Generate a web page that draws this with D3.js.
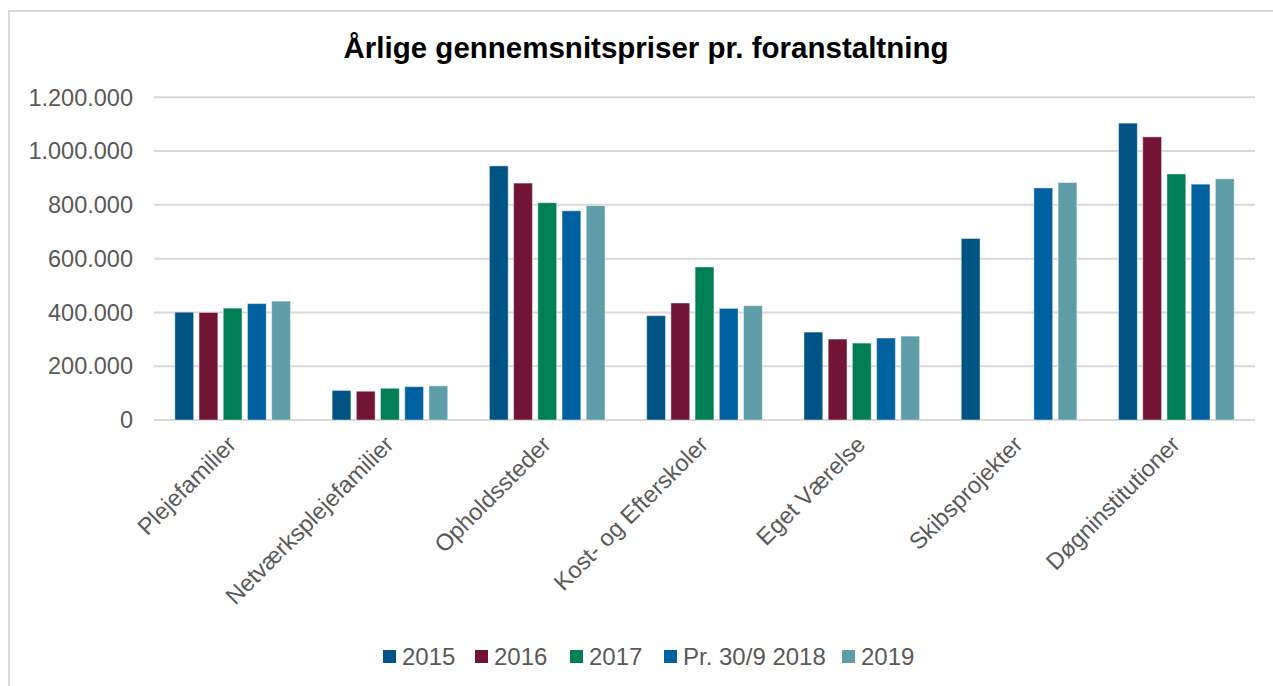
<!DOCTYPE html>
<html>
<head>
<meta charset="utf-8">
<title>Årlige gennemsnitspriser pr. foranstaltning</title>
<style>
  body { margin: 0; background: #fff; }
  svg { display: block; font-family: "Liberation Sans", Arial, sans-serif; }
</style>
</head>
<body>
<div id="chart"></div>
<script src="https://d3js.org/d3.v7.min.js"></script>
<script>
// categories and series
var categories = ["Plejefamilier", "Netværksplejefamilier", "Opholdssteder", "Kost- og Efterskoler",
                  "Eget Værelse", "Skibsprojekter", "Døgninstitutioner"];
var seriesNames = ["2015", "2016", "2017", "Pr. 30/9 2018", "2019"];
var v2015 = [401000, 110000, 945000, 388000, 327000, 675000, 1104000];
var v2016 = [400000, 107000, 881000, 435000, 301000, null, 1053000];
var v2017 = [416000, 118000, 808000, 569000, 286000, null, 915000];
var v2018 = [433000, 124000, 778000, 415000, 305000, 863000, 877000];
var v2019 = [442000, 127000, 797000, 425000, 312000, 883000, 897000];
var yTicks = [0, 200000, 400000, 600000, 800000, 1000000, 1200000];
var colors = ["#005483", "#721436", "#007e55", "#0061a0", "#5f9da8"];

var values = [v2015, v2016, v2017, v2018, v2019];

var width = 1273, height = 686;
var plotLeft = 154, plotRight = 1255, plotTop = 97.3, plotBottom = 420;

var svg = d3.select("#chart").append("svg")
    .attr("width", width)
    .attr("height", height);

// outer frame (right/bottom edges fall outside the picture)
svg.append("rect")
    .attr("x", 9).attr("y", 11)
    .attr("width", 1300).attr("height", 700)
    .attr("fill", "none")
    .attr("stroke", "#d9d9d9")
    .attr("stroke-width", 2);

svg.append("text")
    .attr("x", 646).attr("y", 58)
    .attr("text-anchor", "middle")
    .style("font-size", "29.5px")
    .style("font-weight", "bold")
    .style("fill", "#000")
    .text("Årlige gennemsnitspriser pr. foranstaltning");

var da = d3.formatLocale({decimal: ",", thousands: ".", grouping: [3], currency: ["", " kr"]});
var fmt = da.format(",d");

var y = d3.scaleLinear().domain([0, 1200000]).range([plotBottom, plotTop]);
var x0 = d3.scaleBand().domain(categories).range([plotLeft, plotRight]).padding(0);
var x1 = d3.scaleBand().domain(seriesNames).range([0, x0.bandwidth()])
    .paddingInner(0.223).paddingOuter(0.86);

// gridlines
svg.append("g").selectAll("line")
    .data(yTicks)
    .join("line")
    .attr("x1", plotLeft).attr("x2", plotRight)
    .attr("y1", function(d){ return y(d); })
    .attr("y2", function(d){ return y(d); })
    .attr("stroke", "#d9d9d9")
    .attr("stroke-width", 2);

// y tick labels
svg.append("g").selectAll("text")
    .data(yTicks)
    .join("text")
    .attr("x", 133)
    .attr("y", function(d){ return y(d); })
    .attr("dy", "0.35em")
    .attr("text-anchor", "end")
    .style("font-size", "23.5px")
    .style("fill", "#595959")
    .text(function(d){ return fmt(d); });

// bars
var groups = svg.append("g").selectAll("g")
    .data(seriesNames)
    .join("g")
    .attr("fill", function(d, i){ return colors[i]; });

groups.selectAll("rect")
    .data(function(s, si){
        return categories.map(function(c, ci){ return {cat: c, series: s, value: values[si][ci]}; })
            .filter(function(d){ return d.value != null; });
    })
    .join("rect")
    .attr("x", function(d){ return x0(d.cat) + x1(d.series); })
    .attr("y", function(d){ return y(d.value); })
    .attr("width", x1.bandwidth())
    .attr("height", function(d){ return y(0) - y(d.value); })
    .attr("stroke", "rgba(255,255,255,0.45)")
    .attr("stroke-width", 1);

// category labels, rotated
svg.append("g").selectAll("text")
    .data(categories)
    .join("text")
    .attr("transform", function(d){
        return "translate(" + (x0(d) + x0.bandwidth() / 2 + 5) + "," + 446 + ") rotate(-45)";
    })
    .attr("text-anchor", "end")
    .style("font-size", "23.5px")
    .style("fill", "#595959")
    .text(function(d){ return d; });

// legend
var legendX = [383, 475, 570, 664, 842];
var legend = svg.append("g").selectAll("g")
    .data(seriesNames)
    .join("g")
    .attr("transform", function(d, i){ return "translate(" + legendX[i] + ",650)"; });

legend.append("rect")
    .attr("width", 13).attr("height", 13)
    .attr("fill", function(d, i){ return colors[i]; });

legend.append("text")
    .attr("x", 19).attr("y", 7)
    .attr("dy", "0.35em")
    .style("font-size", "24px")
    .style("fill", "#595959")
    .text(function(d){ return d; });
</script>
</body>
</html>
